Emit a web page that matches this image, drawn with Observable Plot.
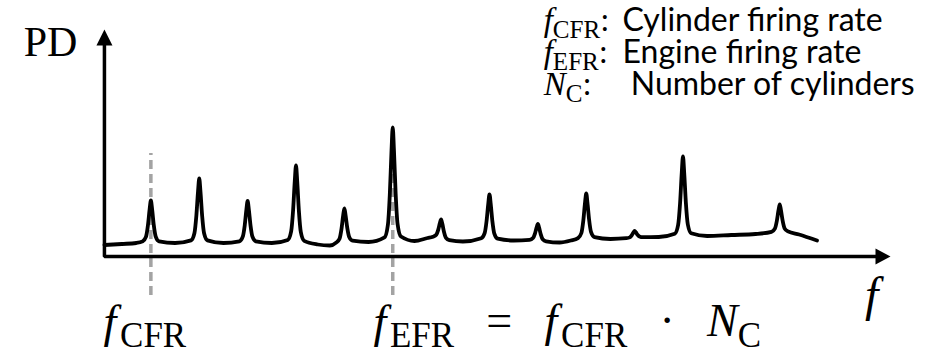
<!DOCTYPE html>
<html>
<head>
<meta charset="utf-8">
<script src="https://cdn.jsdelivr.net/npm/d3@7"></script>
<script src="https://cdn.jsdelivr.net/npm/@observablehq/plot@0.6"></script>
<style>
  html, body { margin: 0; padding: 0; background: #fff; }
  svg text { white-space: pre; }
</style>
</head>
<body>
<div id="chart"></div>
<script>
// Pressure spectrum: frequency in multiples of the cylinder firing rate, PD in arbitrary units
const freq = [
  0.04, 0.40, 0.70,
  0.83, 0.90, 0.94, 0.975, 1.00, 1.025, 1.06, 1.10, 1.17,
  1.50,
  1.83, 1.90, 1.94, 1.975, 2.00, 2.025, 2.06, 2.10, 2.17,
  2.50,
  2.83, 2.90, 2.94, 2.975, 3.00, 3.025, 3.06, 3.10, 3.17,
  3.50,
  3.83, 3.90, 3.94, 3.975, 4.00, 4.025, 4.06, 4.10, 4.17,
  4.45, 4.70,
  4.83, 4.90, 4.94, 4.975, 5.00, 5.025, 5.06, 5.10, 5.17,
  5.50,
  5.83, 5.90, 5.94, 5.975, 6.00, 6.025, 6.06, 6.10, 6.17,
  6.45, 6.72,
  6.83, 6.90, 6.94, 6.975, 7.00, 7.025, 7.06, 7.10, 7.17,
  7.45,
  7.83, 7.90, 7.94, 7.975, 8.00, 8.025, 8.06, 8.10, 8.17,
  8.50,
  8.83, 8.90, 8.94, 8.975, 9.00, 9.025, 9.06, 9.10, 9.17,
  9.45, 9.68,
  9.83, 9.90, 9.94, 9.975, 10.00, 10.025, 10.06, 10.10, 10.17,
  10.50,
  10.83, 10.90, 10.94, 10.975, 11.00, 11.025, 11.06, 11.10, 11.17,
  11.50,
  11.83, 11.90, 11.94, 11.975, 12.00, 12.025, 12.06, 12.10, 12.17,
  12.50, 13.00, 13.50,
  13.83, 13.90, 13.94, 13.975, 14.00, 14.025, 14.06, 14.10, 14.17,
  14.40, 14.77
];
const pd = [
  11.5, 12.5, 13.5,
  15.2, 19.9, 31.4, 47.5, 56, 47.5, 31.4, 19.9, 15.2,
  13.5,
  16.1, 23.2, 40.6, 65.1, 78, 65.1, 40.6, 23.2, 16.1,
  13.5,
  15.2, 19.8, 31.1, 47.1, 55.5, 47.1, 31.1, 19.8, 15.2,
  13.5,
  16.6, 25.1, 46.1, 75.5, 91, 75.3, 45.5, 24.3, 15.6,
  12, 11,
  13.9, 17.8, 27.4, 40.9, 48, 41.3, 28.6, 19.5, 15.8,
  14.5,
  19.1, 31.7, 62.6, 106.1, 129, 106.3, 63.2, 32.5, 20,
  15.5, 18.5,
  19.7, 21.7, 26.6, 33.4, 37, 32.7, 24.5, 18.7, 16.4,
  15,
  18.3, 23.3, 35.6, 52.9, 62, 52.8, 35.3, 22.9, 17.8,
  16,
  16.7, 18.5, 22.9, 29.2, 32.5, 28.9, 22.1, 17.2, 15.2,
  14, 16,
  18.4, 23.5, 36, 53.7, 63, 53.9, 36.6, 24.3, 19.3,
  17.5,
  18.3, 19.1, 21.2, 24, 25.5, 24.2, 21.7, 20, 19.3,
  19.5,
  22.7, 31.6, 53.3, 83.9, 100, 84, 53.6, 32, 23.2,
  20.5, 21.5, 22.5,
  24.6, 27.8, 35.5, 46.3, 52, 46.4, 35.8, 28.2, 25.1,
  22, 16
];

// Marked frequencies: cylinder firing rate and engine firing rate (N_C = 6)
const markerFreq = [1, 6];
const markerSpan = [-39, 103];

// Axis extents
const fMax = 16.29;
const pdMax = 227;
const axisOrigin = 0.04;

// Labels (*x* = italic, _{x} = subscript); math spacing uses Unicode spaces
const gap = "\u2002\u2009";
const axisLabelY = "PD";
const axisLabelX = "*f*";
const markerLabels = [
  "*f*\u200A_{CFR}",
  `*f*\u200A_{EFR}${gap}=${gap}*f*\u200A_{CFR}${gap}·${gap}*N*_{C}`
];
const markerLabelFreq = [0.02, 5.6];
const legendSymbols = ["*f*_{CFR}:", "*f*_{EFR}:", "*N*_{C}:"];
const legendTexts = ["Cylinder firing rate", "Engine firing rate", "Number of cylinders"];
const legendRowPd = [226, 194, 162];
const legendTextFreq = [10.75, 10.75, 10.92];
const legendSymbolFreq = 9.12;

const spectrum = freq.map((f, i) => ({f, pd: pd[i]}));
const axes = [
  {f: axisOrigin, pd: pdMax - 15},
  {f: axisOrigin, pd: 0},
  {f: fMax - 0.3, pd: 0}
];

// Filled arrowheads with the tip at the dot position
const arrowUp = {draw(ctx) { ctx.moveTo(0, 0); ctx.lineTo(8, 16); ctx.lineTo(-8, 16); ctx.closePath(); }};
const arrowRight = {draw(ctx) { ctx.moveTo(0, 0); ctx.lineTo(-15, 8); ctx.lineTo(-15, -8); ctx.closePath(); }};

const serif = "'Liberation Serif', 'Times New Roman', serif";
const sans = "Lato, 'Open Sans', sans-serif";

const chart = Plot.plot({
  width: 937,
  height: 355,
  marginLeft: 102,
  marginRight: 47,
  marginTop: 29,
  marginBottom: 99,
  x: {domain: [0, fMax], axis: null},
  y: {domain: [0, pdMax], axis: null},
  style: {background: "#fff"},
  marks: [
    Plot.ruleX(markerFreq, {x: d => d, y1: markerSpan[0], y2: markerSpan[1], stroke: "#a3a3a3", strokeWidth: 3.5, strokeDasharray: "9,5"}),
    Plot.line(axes, {x: "f", y: "pd", stroke: "#000", strokeWidth: 3.5, strokeLinejoin: "miter"}),
    Plot.dot([{f: axisOrigin, pd: pdMax}], {x: "f", y: "pd", symbol: arrowUp, fill: "#000", stroke: null}),
    Plot.dot([{f: fMax, pd: 0}], {x: "f", y: "pd", symbol: arrowRight, fill: "#000", stroke: null}),
    Plot.line(spectrum, {x: "f", y: "pd", curve: "monotone-x", stroke: "#000", strokeWidth: 3.8, strokeLinejoin: "round", strokeLinecap: "round"}),
    Plot.text([axisLabelY], {x: -0.52, y: 201, text: d => d, textAnchor: "end", lineAnchor: "bottom", fontSize: 42, fontFamily: serif, fill: "#000"}),
    Plot.text([axisLabelX], {x: 15.9, y: -54, text: d => d, textAnchor: "middle", lineAnchor: "bottom", fontSize: 48, fontFamily: serif, fill: "#000"}),
    Plot.text(markerLabels, {x: (d, i) => markerLabelFreq[i], y: -80, text: d => d, textAnchor: "start", lineAnchor: "bottom", fontSize: 46, fontFamily: serif, fill: "#000"}),
    Plot.text(legendSymbols, {x: legendSymbolFreq, y: (d, i) => legendRowPd[i], text: d => d, textAnchor: "start", lineAnchor: "bottom", fontSize: 33, fontFamily: serif, fill: "#000"}),
    Plot.text(legendTexts, {x: (d, i) => legendTextFreq[i], y: (d, i) => legendRowPd[i], text: d => d, textAnchor: "start", lineAnchor: "bottom", fontSize: 32, fontFamily: sans, fill: "#000"})
  ]
});

// Turn the *italic* and _{subscript} markup into tspans
const SUB = 0.76, SHIFT = 0.22;
function renderRich(el, src) {
  el.textContent = "";
  let shifted = false;
  for (const m of src.matchAll(/\*([^*]+)\*|_\{([^}]+)\}|([^*_]+)/g)) {
    const ts = document.createElementNS("http://www.w3.org/2000/svg", "tspan");
    if (m[2] != null) {
      ts.textContent = m[2];
      ts.setAttribute("font-size", SUB + "em");
      ts.setAttribute("dy", (SHIFT / SUB).toFixed(3) + "em");
      shifted = true;
    } else {
      ts.textContent = m[1] != null ? m[1] : m[3];
      if (m[1] != null) ts.setAttribute("font-style", "italic");
      if (shifted) { ts.setAttribute("dy", -SHIFT + "em"); shifted = false; }
    }
    el.appendChild(ts);
  }
}
chart.querySelectorAll("text").forEach(t => {
  const s = t.textContent;
  if (/\*|_\{/.test(s)) renderRich(t, s);
});

document.getElementById("chart").appendChild(chart);
</script>
</body>
</html>
